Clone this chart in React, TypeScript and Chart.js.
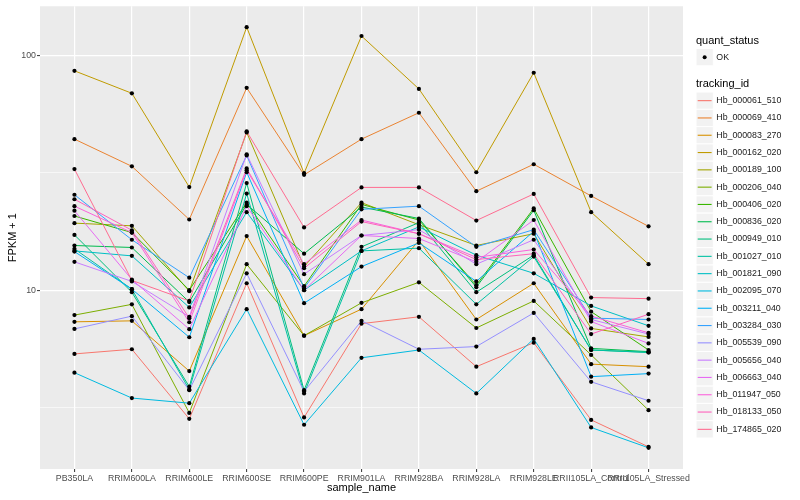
import React, { useEffect, useRef } from 'react';
import { Chart, registerables } from 'chart.js';

Chart.register(...registerables);

const categories = [
  'PB350LA', 'RRIM600LA', 'RRIM600LE', 'RRIM600SE', 'RRIM600PE', 'RRIM901LA',
  'RRIM928BA', 'RRIM928LA', 'RRIM928LE', 'RRII105LA_Control', 'RRII105LA_Stressed',
];

const trackingIds = [
  'Hb_000061_510', 'Hb_000069_410', 'Hb_000083_270', 'Hb_000162_020', 'Hb_000189_100',
  'Hb_000206_040', 'Hb_000406_020', 'Hb_000836_020', 'Hb_000949_010', 'Hb_001027_010',
  'Hb_001821_090', 'Hb_002095_070', 'Hb_003211_040', 'Hb_003284_030', 'Hb_005539_090',
  'Hb_005656_040', 'Hb_006663_040', 'Hb_011947_050', 'Hb_018133_050', 'Hb_174865_020',
];

const colors = [
  '#F8766D', '#EA8331', '#D89000', '#C09B00', '#A3A500', '#7CAE00', '#39B600', '#00BB4E',
  '#00BF7D', '#00C1A3', '#00BFC4', '#00BAE0', '#00B0F6', '#35A2FF', '#9590FF', '#C77CFF',
  '#E76BF3', '#FA62DB', '#FF62BC', '#FF6C91',
];

const hb000061_510 = [5.35, 5.6, 2.83, 10.7, 2.87, 7.2, 7.7, 4.72, 5.97, 2.8, 2.15];
const hb000069_410 = [44, 33.7, 20, 72.8, 31, 44, 57, 26.4, 34.4, 25.2, 18.7];
const hb000083_270 = [7.33, 7.4, 4.52, 17, 6.4, 8.3, 16.3, 7.5, 10.7, 4.84, 4.72];
const hb000162_020 = [86, 69, 27.5, 132, 31.5, 121, 72, 31.8, 84.4, 21.5, 12.9];
const hb000189_100 = [19.3, 18.8, 9.9, 47, 12.6, 23.6, 19.0, 15.5, 17.4, 6.87, 6.32];
const hb000206_040 = [7.83, 8.7, 3.0, 12.9, 6.4, 8.83, 10.8, 6.9, 9.0, 5.3, 3.08];
const hb000406_020 = [20.7, 17.6, 10.0, 23.6, 10.4, 23.2, 19.9, 10.5, 22.3, 8.1, 5.56];
const hb000836_020 = [15.5, 15.2, 8.9, 23.2, 14.3, 22.6, 20.2, 10.3, 21.9, 5.65, 5.47];
const hb000949_010 = [17.2, 9.8, 3.88, 28.6, 3.75, 15.3, 19.4, 9.8, 14.1, 5.56, 5.43];
const hb001027_010 = [15.0, 10.1, 3.77, 25.8, 3.63, 14.7, 15.1, 8.7, 13.9, 5.56, 5.43];
const hb001821_090 = [14.7, 14.0, 8.44, 21.5, 10.0, 14.7, 18.6, 14.1, 11.8, 8.57, 7.05];
const hb002095_070 = [4.45, 3.47, 3.3, 8.3, 2.67, 5.15, 5.56, 3.63, 6.2, 2.6, 2.13];
const hb003211_040 = [14.6, 10.1, 6.3, 31.8, 8.8, 12.6, 15.9, 10.9, 17.8, 4.28, 4.41];
const hb003284_030 = [25.5, 16.4, 11.3, 37.5, 10.2, 22.1, 22.8, 15.3, 18.1, 7.6, 7.5];
const hb005539_090 = [6.84, 7.75, 3.75, 11.8, 3.7, 7.4, 5.6, 5.75, 8.0, 4.07, 3.38];
const hb005656_040 = [13.2, 10.9, 7.7, 37.9, 11.7, 17.1, 18.1, 12.9, 16.4, 7.5, 6.5];
const hb006663_040 = [21.8, 11.1, 6.82, 22.8, 10.0, 17.1, 16.6, 13.2, 19.9, 7.35, 5.93];
const hb011947_050 = [22.8, 17.6, 7.3, 32.4, 12.9, 19.9, 17.4, 13.8, 14.9, 7.75, 6.58];
const hb018133_050 = [24.4, 18.0, 7.6, 33, 12.4, 19.6, 17.4, 13.5, 14.3, 6.5, 7.9];
const hb174865_020 = [32.8, 11.0, 9.0, 47.5, 18.5, 27.4, 27.4, 19.8, 25.7, 9.3, 9.2];

const seriesValues = [
  hb000061_510, hb000069_410, hb000083_270, hb000162_020, hb000189_100,
  hb000206_040, hb000406_020, hb000836_020, hb000949_010, hb001027_010,
  hb001821_090, hb002095_070, hb003211_040, hb003284_030, hb005539_090,
  hb005656_040, hb006663_040, hb011947_050, hb018133_050, hb174865_020,
];

const yGridValues = [3.1623, 10, 31.623, 100];
const yMajorValues = [10, 100];
const yTickLabels = ['10', '100'];

const quantStatus = ['OK'];

const FONT = "'Liberation Sans', Arial, Helvetica, sans-serif";

const panelBackground = {
  id: 'panelBackground',
  beforeDraw(chart: any) {
    const { ctx, chartArea } = chart;
    ctx.save();
    ctx.fillStyle = '#EBEBEB';
    ctx.fillRect(chartArea.left, chartArea.top, chartArea.right - chartArea.left, chartArea.bottom - chartArea.top);
    ctx.restore();
  },
};

const legendPlugin = {
  id: 'ggLegend',
  afterDraw(chart: any) {
    const { ctx } = chart;
    const x0 = 696;
    const key = 17.3;
    ctx.save();
    ctx.textBaseline = 'middle';
    ctx.textAlign = 'left';
    ctx.fillStyle = '#000';
    ctx.font = `11px ${FONT}`;
    ctx.fillText('quant_status', x0, 41);
    // quant status key
    quantStatus.forEach((q, i) => {
      const top = 48.5 + i * key;
      ctx.fillStyle = '#F2F2F2';
      ctx.fillRect(x0, top, key, key);
      ctx.strokeStyle = '#FFFFFF';
      ctx.lineWidth = 1;
      ctx.strokeRect(x0, top, key, key);
      ctx.fillStyle = '#000';
      ctx.beginPath();
      ctx.arc(x0 + key / 2, top + key / 2, 2, 0, Math.PI * 2);
      ctx.fill();
      ctx.font = `8.8px ${FONT}`;
      ctx.fillStyle = '#1A1A1A';
      ctx.fillText(q, x0 + key + 3, top + key / 2);
    });
    ctx.fillStyle = '#000';
    ctx.font = `11px ${FONT}`;
    ctx.fillText('tracking_id', x0, 84);
    trackingIds.forEach((id, i) => {
      const top = 92 + i * key;
      ctx.fillStyle = '#F2F2F2';
      ctx.fillRect(x0, top, key, key);
      ctx.strokeStyle = '#FFFFFF';
      ctx.lineWidth = 1;
      ctx.strokeRect(x0, top, key, key);
      ctx.strokeStyle = colors[i];
      ctx.lineWidth = 1.1;
      ctx.beginPath();
      ctx.moveTo(x0 + 1.7, top + key / 2);
      ctx.lineTo(x0 + key - 1.7, top + key / 2);
      ctx.stroke();
      ctx.font = `8.8px ${FONT}`;
      ctx.fillStyle = '#1A1A1A';
      ctx.fillText(id, x0 + key + 3, top + key / 2);
    });
    ctx.restore();
  },
};

export default function App() {
  const ref = useRef<HTMLCanvasElement>(null);

  useEffect(() => {
    document.body.style.margin = '0';
    Chart.defaults.font.family = FONT;
    const canvas = ref.current;
    if (!canvas) return;

    const n = seriesValues.length;
    const lineSets = seriesValues.map((vals, i) => ({
      label: trackingIds[i],
      data: vals.map((v, j) => ({ x: j, y: v })),
      borderColor: colors[i],
      backgroundColor: colors[i],
      borderWidth: 1,
      pointRadius: 0,
      pointHoverRadius: 0,
      fill: false,
      tension: 0,
      order: n - i,
    }));
    const pointSets = seriesValues.map((vals, i) => ({
      label: trackingIds[i] + ' ' + quantStatus[0],
      data: vals.map((v, j) => ({ x: j, y: v })),
      showLine: false,
      borderColor: '#000',
      backgroundColor: '#000',
      pointBackgroundColor: '#000',
      pointBorderWidth: 0,
      pointRadius: 2.1,
      pointHoverRadius: 2.1,
      order: 0,
    }));

    const chart = new Chart(canvas, {
      type: 'line',
      data: { datasets: [...lineSets, ...pointSets] as any },
      options: {
        responsive: false,
        animation: false,
        events: [],
        layout: { padding: { top: 5.6, right: 117, left: 0, bottom: 0 } },
        plugins: {
          legend: { display: false },
          tooltip: { enabled: false },
        },
        scales: {
          x: {
            type: 'linear',
            min: -0.6,
            max: categories.length - 1 + 0.6,
            afterBuildTicks: (s: any) => {
              s.ticks = categories.map((_, i) => ({ value: i }));
            },
            afterFit: (s: any) => {
              s.height = 31;
            },
            ticks: {
              autoSkip: false,
              maxRotation: 0,
              minRotation: 0,
              padding: 1,
              color: '#4D4D4D',
              font: { size: 8.8, family: FONT },
              callback: (v: any) => categories[v] ?? '',
            },
            grid: {
              color: '#FFFFFF',
              lineWidth: 1.2,
              tickLength: 3,
              tickColor: '#333333',
              tickWidth: 1,
            },
            border: { display: false },
            title: {
              display: true,
              text: 'sample_name',
              color: '#000',
              font: { size: 11, family: FONT },
              padding: { top: 0, bottom: 5 },
            },
          },
          y: {
            type: 'logarithmic',
            min: 1.73,
            max: 162,
            afterBuildTicks: (s: any) => {
              s.ticks = yGridValues.map((v) => ({ value: v }));
            },
            afterFit: (s: any) => {
              s.width = 40;
            },
            ticks: {
              autoSkip: false,
              padding: 1,
              color: '#4D4D4D',
              font: { size: 8.8, family: FONT },
              callback: (v: any) => {
                const k = yMajorValues.indexOf(Number(v));
                return k >= 0 ? yTickLabels[k] : '';
              },
            },
            grid: {
              color: '#FFFFFF',
              lineWidth: (c: any) => (c.tick && yMajorValues.includes(c.tick.value) ? 1.2 : 0.6),
              tickLength: 3,
              tickWidth: 1,
              tickColor: (c: any) => (c.tick && yMajorValues.includes(c.tick.value) ? '#333333' : 'rgba(0,0,0,0)'),
            },
            border: { display: false },
            title: {
              display: true,
              text: 'FPKM + 1',
              color: '#000',
              font: { size: 11, family: FONT },
              padding: { top: 6.4, bottom: 0 },
            },
          },
        },
      } as any,
      plugins: [panelBackground, legendPlugin],
    });

    return () => chart.destroy();
  }, []);

  return (
    <div style={{ position: 'absolute', left: 0, top: 0, width: 800, height: 500, background: '#fff' }}>
      <canvas ref={ref} width={800} height={500} style={{ width: 800, height: 500, display: 'block' }} />
    </div>
  );
}
